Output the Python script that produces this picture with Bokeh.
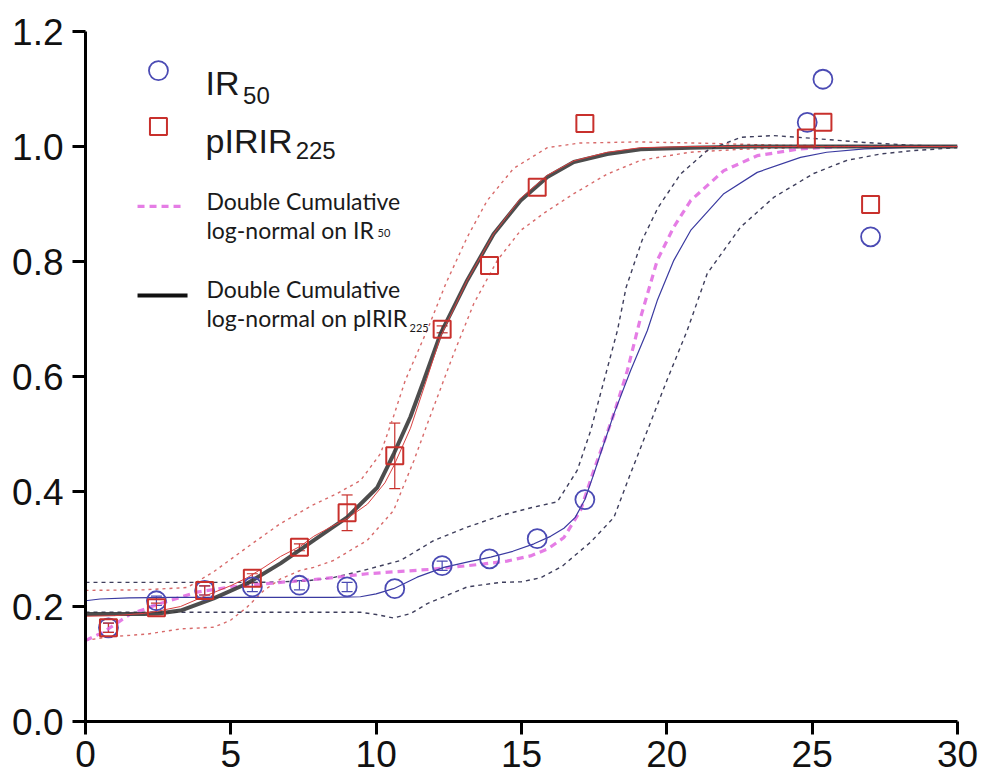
from bokeh.plotting import figure
from bokeh.models import Label, Whisker, TeeHead, ColumnDataSource, FixedTicker, PrintfTickFormatter
from bokeh.embed import file_html
from bokeh.resources import INLINE

# ---------------- data points ----------------
ir50_x = [0.79, 2.44, 4.10, 5.74, 7.36, 9.00, 10.64, 12.27, 13.90, 15.54, 17.18, 24.83, 25.37, 27.01]
ir50_y = [0.163, 0.210, 0.228, 0.234, 0.237, 0.234, 0.231, 0.271, 0.283, 0.318, 0.386, 1.042, 1.117, 0.843]
ir50_err = [0.008, 0.008, 0.008, 0.008, 0.008, 0.008, 0.0, 0.008, 0.0, 0.0, 0.0, 0.0, 0.0, 0.0]

pirir_x = [0.79, 2.44, 4.10, 5.74, 7.36, 9.00, 10.64, 12.27, 13.90, 15.54, 17.18, 24.80, 25.37, 27.01]
pirir_y = [0.163, 0.198, 0.228, 0.249, 0.303, 0.363, 0.462, 0.682, 0.793, 0.929, 1.040, 1.015, 1.042, 0.899]
pirir_err = [0.008, 0.008, 0.008, 0.008, 0.006, 0.031, 0.057, 0.006, 0.0, 0.0, 0.0, 0.0, 0.0, 0.0]

# ---------------- curves ----------------
# pIRIR225 double cumulative log-normal fit (thick black)
fitp_x = [0, 1.0, 2.0, 2.5, 3.27, 4.41, 5.56, 6.71, 7.85, 9.0, 10.04, 10.61, 11.18, 11.64, 12.22,
          13.13, 14.04, 14.97, 15.89, 16.8, 17.95, 19.1, 20.8, 23.0, 26.0, 30.0]
fitp_y = [0.187, 0.187, 0.187, 0.188, 0.193, 0.214, 0.240, 0.275, 0.315, 0.355, 0.407, 0.466, 0.530,
          0.593, 0.675, 0.767, 0.848, 0.906, 0.947, 0.973, 0.987, 0.995, 0.998, 1.0, 1.0, 1.0]

# pIRIR225 thin red curve
linep_x = [0, 1.0, 2.0, 2.5, 3.27, 4.1, 4.99, 5.56, 6.14, 6.71, 7.4, 7.85, 8.5, 9.0, 9.7, 10.3, 10.61,
           11.18, 11.64, 12.22, 13.13, 14.04, 14.97, 15.89, 16.8, 17.95, 19.1, 20.8, 23.0, 26.0, 30.0]
linep_y = [0.183, 0.184, 0.188, 0.192, 0.200, 0.218, 0.236, 0.250, 0.268, 0.287, 0.305, 0.322, 0.340,
           0.353, 0.378, 0.415, 0.445, 0.510, 0.580, 0.670, 0.767, 0.848, 0.910, 0.950, 0.975, 0.990,
           0.998, 1.0, 1.0, 1.0, 1.0]

# pIRIR225 confidence band (red dotted)
bandp_up_x = [0, 2.0, 3.5, 4.4, 5.56, 6.7, 7.8, 8.6, 9.46, 10.15, 10.58, 11.0, 11.8, 12.4, 13.13,
              13.82, 14.73, 15.89, 17.0, 19.0, 21.0, 24.0, 30.0]
bandp_up_y = [0.228, 0.229, 0.233, 0.260, 0.303, 0.344, 0.376, 0.395, 0.419, 0.466, 0.528, 0.593,
              0.686, 0.762, 0.842, 0.906, 0.962, 0.998, 1.006, 1.008, 1.006, 1.002, 1.0]
bandp_lo_x = [0, 0.75, 2.12, 3.27, 4.41, 4.99, 5.56, 6.14, 6.71, 7.4, 7.85, 8.53, 9.69, 10.6, 11.3,
              11.8, 12.67, 13.36, 14.17, 14.97, 15.8, 16.8, 17.95, 19.1, 20.8, 22.5, 25.0, 30.0]
bandp_lo_y = [0.141, 0.147, 0.152, 0.161, 0.164, 0.176, 0.199, 0.228, 0.248, 0.263, 0.268, 0.280,
              0.315, 0.367, 0.454, 0.523, 0.640, 0.727, 0.802, 0.854, 0.885, 0.918, 0.952, 0.976,
              0.990, 0.995, 0.999, 1.0]

# IR50 thin blue fit
fiti_x = [0, 0.5, 1.5, 3.0, 5.0, 7.0, 8.5, 9.46, 10.0, 10.6, 11.41, 12.33, 13.2, 13.94, 14.7, 15.43,
          16.0, 16.46, 16.85, 17.18, 17.45, 17.72, 18.18, 18.75, 19.33, 19.67, 20.24, 20.82, 21.96,
          23.11, 24.6, 25.5, 26.8, 28.5, 30.0]
fiti_y = [0.210, 0.213, 0.215, 0.216, 0.216, 0.216, 0.216, 0.217, 0.222, 0.231, 0.251, 0.268, 0.278,
          0.286, 0.296, 0.309, 0.322, 0.336, 0.355, 0.386, 0.425, 0.466, 0.535, 0.610, 0.680, 0.732,
          0.802, 0.854, 0.918, 0.955, 0.981, 0.990, 0.996, 0.999, 1.0]

# IR50 double cumulative log-normal (magenta dashed)
dcl_x = [0, 0.6, 1.55, 2.69, 3.84, 4.99, 6.71, 8.09, 9.69, 11.98, 13.71, 14.5, 15.31, 15.9, 16.46,
         17.03, 17.49, 18.18, 18.64, 19.1, 19.67, 20.24, 20.82, 21.96, 23.11, 24.6, 26.0, 30.0]
dcl_y = [0.141, 0.155, 0.187, 0.207, 0.225, 0.234, 0.242, 0.248, 0.257, 0.265, 0.274, 0.279, 0.288,
         0.300, 0.320, 0.367, 0.437, 0.535, 0.610, 0.703, 0.802, 0.860, 0.906, 0.958, 0.984, 0.996,
         1.0, 1.0]

# IR50 confidence band (dark dashed)
bandi_up_x = [0, 3.0, 6.0, 7.5, 8.5, 9.5, 10.84, 11.99, 13.13, 14.28, 15.43, 16.23, 16.92, 17.38,
              17.84, 18.3, 18.6, 19.15, 19.7, 20.47, 21.39, 22.54, 23.68, 25.05, 26.8, 28.5, 30.0]
bandi_up_y = [0.242, 0.242, 0.242, 0.244, 0.250, 0.262, 0.280, 0.315, 0.338, 0.358, 0.373, 0.382,
              0.437, 0.506, 0.593, 0.680, 0.755, 0.837, 0.894, 0.952, 0.993, 1.016, 1.019, 1.014,
              1.007, 1.002, 1.0]
bandi_lo_x = [0, 3.0, 6.0, 9.0, 9.46, 10.0, 10.61, 11.2, 11.76, 13.13, 14.28, 15.0, 15.66, 16.4,
              17.38, 18.18, 18.75, 19.33, 20.0, 20.7, 21.39, 22.54, 23.69, 25.05, 26.2, 27.36, 28.5, 30.0]
bandi_lo_y = [0.190, 0.190, 0.190, 0.190, 0.190, 0.186, 0.180, 0.188, 0.205, 0.234, 0.242, 0.243,
              0.250, 0.270, 0.312, 0.355, 0.431, 0.506, 0.593, 0.680, 0.779, 0.860, 0.912, 0.953,
              0.976, 0.987, 0.993, 0.998]

x_ticks = [0, 5, 10, 15, 20, 25, 30]
y_ticks = [0.0, 0.2, 0.4, 0.6, 0.8, 1.0, 1.2]

# ---------------- styles ----------------
C_BLUE = "#4b4bb4"
C_BLUE_LINE = "#3a3aa0"
C_BAND_I = "#3e3e5c"
C_MAG = "#e066e0"
C_BLACK = "#3a3a3a"
C_RED = "#c8302c"
C_RED_LINE = "#d84040"
C_BAND_P = "#d86a6a"

p = figure(width=981, height=782, x_range=(0, 30), y_range=(0, 1.2),
           output_backend="svg", toolbar_location=None,
           min_border_left=85, min_border_right=24, min_border_top=31, min_border_bottom=61)
p.background_fill_color = "white"
p.border_fill_color = "white"
p.outline_line_color = None
p.grid.grid_line_color = None

for ax in (p.xaxis, p.yaxis):
    ax.axis_line_width = 3
    ax.axis_line_color = "black"
    ax.major_tick_line_width = 3
    ax.major_tick_line_color = "black"
    ax.major_tick_in = 0
    ax.major_tick_out = 13
    ax.minor_tick_line_color = None
    ax.major_label_text_font = "Liberation Sans"
    ax.major_label_text_color = "#111111"

p.xaxis.ticker = FixedTicker(ticks=x_ticks)
p.yaxis.ticker = FixedTicker(ticks=y_ticks)
p.xaxis.formatter = PrintfTickFormatter(format="%d")
p.yaxis.formatter = PrintfTickFormatter(format="%.1f")
p.xaxis.major_label_text_font_size = "37px"
p.yaxis.major_label_text_font_size = "37px"
p.xaxis.major_label_standoff = 6
p.yaxis.major_label_standoff = 9

# bands
p.line(bandp_up_x, bandp_up_y, line_color=C_BAND_P, line_width=1.4, line_dash="3 4")
p.line(bandp_lo_x, bandp_lo_y, line_color=C_BAND_P, line_width=1.4, line_dash="3 4")
p.line(bandi_up_x, bandi_up_y, line_color=C_BAND_I, line_width=1.4, line_dash="4 4")
p.line(bandi_lo_x, bandi_lo_y, line_color=C_BAND_I, line_width=1.4, line_dash="4 4")

# fits
p.line(dcl_x, dcl_y, line_color=C_MAG, line_width=3.2, line_dash="7 5", line_alpha=0.85)
p.line(fiti_x, fiti_y, line_color=C_BLUE_LINE, line_width=1.2)
p.line(fitp_x, fitp_y, line_color=C_BLACK, line_width=4, line_alpha=0.9)
p.line(linep_x, linep_y, line_color=C_RED_LINE, line_width=1.0)

# error bars
def whisk(xs, ys, es, color):
    idx = [i for i, e in enumerate(es) if e > 0]
    src = ColumnDataSource(dict(
        x=[xs[i] for i in idx],
        lo=[ys[i] - es[i] for i in idx],
        up=[ys[i] + es[i] for i in idx]))
    w = Whisker(source=src, base="x", lower="lo", upper="up", line_color=color, line_width=1.2,
                lower_head=TeeHead(size=11, line_color=color, line_width=1.2),
                upper_head=TeeHead(size=11, line_color=color, line_width=1.2))
    p.add_layout(w)

whisk(ir50_x, ir50_y, ir50_err, C_BLUE)
whisk(pirir_x, pirir_y, pirir_err, C_RED)

# markers
p.scatter(ir50_x, ir50_y, marker="circle", size=19, line_color=C_BLUE, fill_color=None, line_width=1.8)
p.scatter(pirir_x, pirir_y, marker="square", size=17, line_color=C_RED, fill_color=None, line_width=2.0)

# ---------------- legend (custom) ----------------
p.scatter([2.51], [1.132], marker="circle", size=19, line_color=C_BLUE, fill_color=None, line_width=1.8)
p.scatter([2.51], [1.035], marker="square", size=17, line_color=C_RED, fill_color=None, line_width=2.0)
p.line([1.79, 3.44], [0.896, 0.896], line_color=C_MAG, line_width=3.2, line_dash="7 5", line_alpha=0.85)
p.line([1.79, 3.51], [0.741, 0.741], line_color="#111111", line_width=4)

def lab(x, y, t, size, font="Liberation Sans"):
    p.add_layout(Label(x=x, y=y, text=t, text_font=font, text_font_size=size,
                       text_color="#1a1a1a", text_baseline="alphabetic", text_align="left"))

lab(4.13, 1.111, "IR", "34px")
lab(5.42, 1.089, "50", "24px")
lab(4.13, 1.010, "pIRIR", "34px")
lab(7.23, 0.993, "225", "24px")
lab(4.16, 0.906, "Double Cumulative", "23px", "Lato")
lab(4.16, 0.854, "log-normal on IR", "23px", "Lato")
lab(10.05, 0.850, "50", "11px", "Lato")
lab(4.16, 0.753, "Double Cumulative", "23px", "Lato")
lab(4.16, 0.701, "log-normal on pIRIR", "23px", "Lato")
lab(11.15, 0.685, "225", "11px", "Lato")

open("out.html", "w").write(file_html(p, INLINE))
